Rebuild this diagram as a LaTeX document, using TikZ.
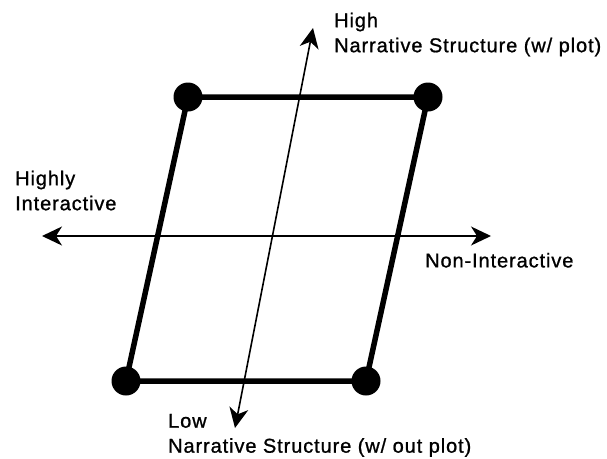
\documentclass[tikz,border=0pt]{standalone}
\usepackage{fontspec}
\setmainfont{Liberation Sans}[LetterSpace=4.5, FakeBold=1]
\usepackage{tikz}
\usetikzlibrary{arrows.meta, positioning}

\begin{document}
\begin{tikzpicture}[x=1pt, y=-1pt,
  dot/.style={circle, fill=black, inner sep=0pt, minimum size=29pt},
  frame/.style={line width=5.5pt},
  axis/.style={{Stealth[length=20pt, width=19pt, inset=6pt]}-{Stealth[length=20pt, width=19pt, inset=6pt]}, line width=1.6pt},
  lbl/.style={anchor=north west, align=left, inner sep=0pt,
              font=\fontsize{20}{25}\selectfont}
]
\useasboundingbox (0,0) rectangle (607,458);

% corners of the box
\node[dot] (tl) at (188,97)  {};
\node[dot] (tr) at (428,97)  {};
\node[dot] (br) at (366,381) {};
\node[dot] (bl) at (126,381) {};

\draw[frame] (tl.center) -- (tr.center) -- (br.center) -- (bl.center) -- cycle;

% axes
\coordinate (west) at (42,236);
\coordinate (east) at (491,236);
\coordinate (low)  at (235,428);
\coordinate (high) at (313,28);

\draw[axis] (west) -- (east);
\draw[axis] (low) -- (high);

% labels
\node[lbl] (hi)  at (334,12.5)  {High\\Narrative Structure (w/ plot)};
\node[lbl] (hia) at (15,170.5)  {Highly\\Interactive};
\node[lbl] (non) at (425,252.7) {Non-Interactive};
\node[lbl] (lo)  at (168,413.7) {Low\\Narrative Structure (w/ out plot)};
\end{tikzpicture}
\end{document}
